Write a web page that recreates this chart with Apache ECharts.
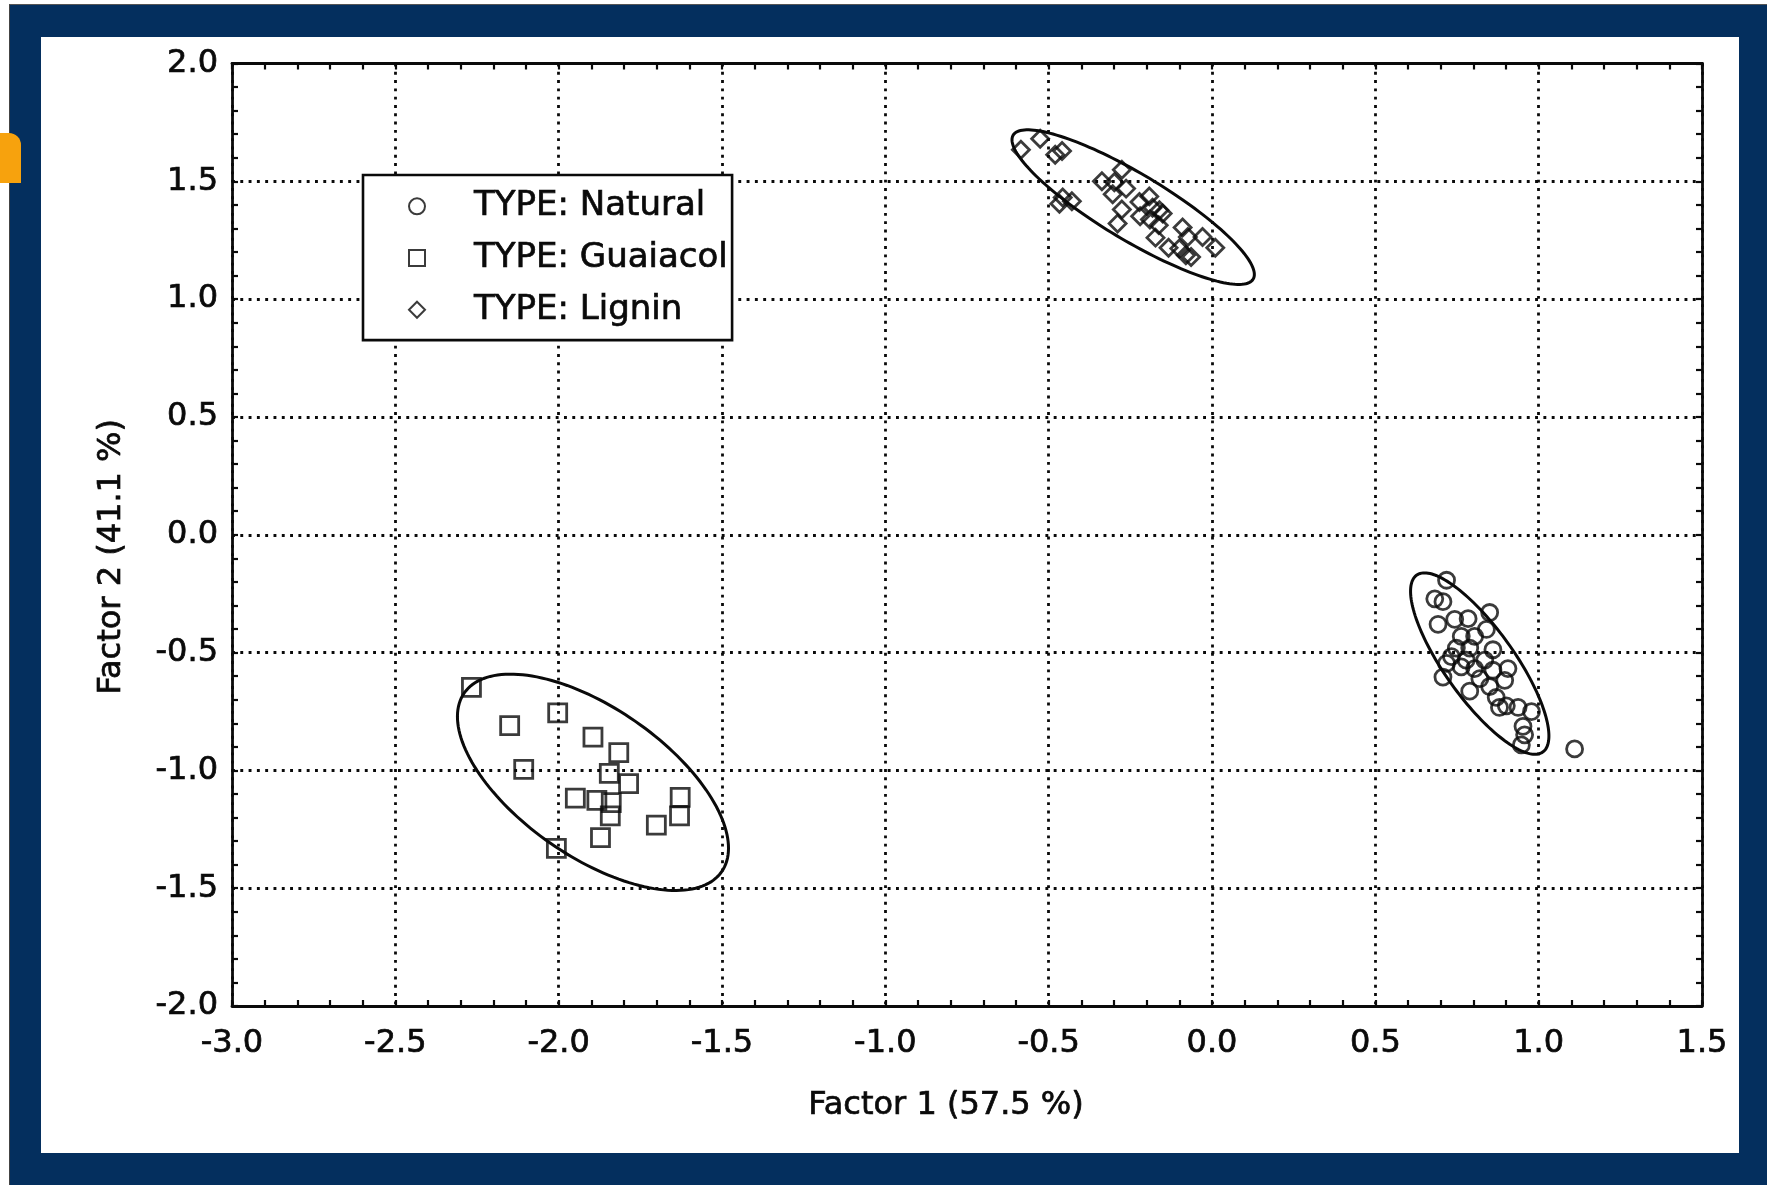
<!DOCTYPE html>
<html>
<head>
<meta charset="utf-8">
<script src="https://cdn.jsdelivr.net/npm/echarts@6/dist/echarts.min.js"></script>
<style>
  html, body { margin: 0; padding: 0; background: #ffffff; width: 1767px; height: 1185px; overflow: hidden; }
  #frame { position: absolute; left: 9px; top: 4px; width: 1758px; height: 1181px; background: #042f5e; border-top: 1.5px solid #555; border-left: 1.5px solid #444; box-sizing: border-box; }
  #tab { position: absolute; left: 0px; top: 133px; width: 21px; height: 50px; background: #f7a20d; border-radius: 0 12px 0 0; }
  #chart { position: absolute; left: 41px; top: 37px; width: 1698px; height: 1116px; background: #ffffff; }
</style>
</head>
<body>
<div id="frame"></div>
<div id="tab"></div>
<div id="chart"></div>
<script>
// ---- data ----
const seriesNames = ['TYPE: Natural', 'TYPE: Guaiacol', 'TYPE: Lignin'];
const xRange = [-3.0, 1.5];
const yRange = [-2.0, 2.0];
const tickStep = 0.5;
const xAxisTitle = 'Factor 1 (57.5 %)';
const yAxisTitle = 'Factor 2 (41.1 %)';

const naturalPoints = [
  [0.718,-0.193],[0.682,-0.272],[0.707,-0.284],[0.850,-0.330],[0.692,-0.380],
  [0.743,-0.359],[0.784,-0.356],[0.840,-0.402],[0.763,-0.431],[0.804,-0.431],
  [0.789,-0.481],[0.748,-0.481],[0.860,-0.488],[0.718,-0.546],[0.763,-0.561],
  [0.804,-0.568],[0.835,-0.532],[0.860,-0.575],[0.906,-0.568],[0.707,-0.604],
  [0.789,-0.664],[0.850,-0.644],[0.896,-0.618],[0.870,-0.690],[0.901,-0.726],
  [0.937,-0.733],[0.978,-0.751],[0.952,-0.813],[0.957,-0.849],[0.947,-0.892],
  [0.733,-0.517],[0.820,-0.611],[0.880,-0.733],[0.778,-0.532],[1.110,-0.909]
];
const guaiacolPoints = [
  [-2.267,-0.648],[-2.150,-0.810],[-2.003,-0.756],[-2.107,-0.996],[-1.895,-0.859],
  [-1.816,-0.925],[-1.845,-1.013],[-1.786,-1.056],[-1.949,-1.118],[-1.883,-1.127],
  [-1.839,-1.137],[-1.842,-1.193],[-1.872,-1.285],[-2.007,-1.331],[-1.701,-1.232],
  [-1.628,-1.115],[-1.630,-1.193]
];
const ligninPoints = [
  [-0.585,1.634],[-0.526,1.681],[-0.480,1.613],[-0.459,1.629],[-0.457,1.431],
  [-0.429,1.415],[-0.467,1.405],[-0.276,1.549],[-0.337,1.500],[-0.299,1.496],
  [-0.263,1.469],[-0.304,1.445],[-0.276,1.380],[-0.289,1.321],[-0.222,1.412],
  [-0.192,1.436],[-0.182,1.388],[-0.161,1.377],[-0.220,1.352],[-0.190,1.338],
  [-0.163,1.314],[-0.173,1.261],[-0.133,1.218],[-0.090,1.304],[-0.074,1.264],
  [-0.100,1.215],[-0.080,1.186],[-0.064,1.179],[-0.029,1.264],[0.010,1.218],
  [-0.151,1.363]
];
// confidence ellipses: [centerX, centerY, majorEndX, majorEndY, minorEndX, minorEndY]
const naturalEllipse  = [0.8196, -0.5468, 1.0133, -0.9215, 0.9052, -0.4585];
const guaiacolEllipse = [-1.895, -1.0507, -1.501, -1.430, -1.765, -0.792];
const ligninEllipse   = [-0.2413, 1.3905, 0.126, 1.085, -0.1893, 1.5105];

// ---- chart ----
const FONT = 'DejaVu Sans';
const INK = '#0a0a0a';
const chart = echarts.init(document.getElementById('chart'), null, { renderer: 'canvas' });

const heavy = { textBorderColor: INK, textBorderWidth: 0.7 };
const dotted = { type: [2.9, 5.4], width: 2.8, color: INK };
const axisLineStyle = { show: true, onZero: false, lineStyle: { color: INK, width: 2.8 } };
const tickStyle = { show: true, inside: true, length: 6, lineStyle: { color: INK, width: 2.2 } };
const minorTickStyle = { show: true, splitNumber: 5, length: 6, lineStyle: { color: INK, width: 2.2 } };
const fmt = v => v.toFixed(1);

const markerStyle = { color: 'rgba(0,0,0,0)', borderColor: INK, borderWidth: 2.8 };

function ellipseItem(params, api) {
  const cx = api.value(0), cy = api.value(1);
  const ux = api.value(2) - cx, uy = api.value(3) - cy;
  const vx = api.value(4) - cx, vy = api.value(5) - cy;
  const pts = [];
  const n = 160;
  for (let i = 0; i < n; i++) {
    const t = i / n * Math.PI * 2;
    const c = Math.cos(t), s = Math.sin(t);
    pts.push(api.coord([cx + c * ux + s * vx, cy + c * uy + s * vy]));
  }
  return {
    type: 'polygon',
    shape: { points: pts },
    style: { fill: 'none', stroke: INK, lineWidth: 3 },
    silent: true
  };
}

const option = {
  backgroundColor: '#ffffff',
  animation: false,
  textStyle: { fontFamily: FONT, color: INK },
  grid: { left: 191, top: 26.5, width: 1470, height: 942.5, show: false },
  xAxis: [{
    type: 'value', min: xRange[0], max: xRange[1], interval: tickStep, position: 'bottom',
    axisLine: axisLineStyle, axisTick: tickStyle, minorTick: minorTickStyle,
    splitLine: { show: true, lineStyle: dotted },
    axisLabel: Object.assign({ formatter: fmt, fontSize: 32, fontFamily: FONT, color: INK, margin: 22 }, heavy),
    name: xAxisTitle, nameLocation: 'middle', nameGap: 84,
    nameTextStyle: Object.assign({ fontSize: 32, fontFamily: FONT, color: INK, padding: [0, 42, 0, 0] }, heavy)
  }, {
    type: 'value', min: xRange[0], max: xRange[1], interval: tickStep, position: 'top',
    axisLine: axisLineStyle, axisTick: tickStyle, minorTick: minorTickStyle,
    splitLine: { show: false }, axisLabel: { show: false }
  }],
  yAxis: [{
    type: 'value', min: yRange[0], max: yRange[1], interval: tickStep, position: 'left',
    axisLine: axisLineStyle, axisTick: tickStyle, minorTick: minorTickStyle,
    splitLine: { show: true, lineStyle: dotted },
    axisLabel: Object.assign({ formatter: fmt, fontSize: 32, fontFamily: FONT, color: INK, margin: 14 }, heavy),
    name: yAxisTitle, nameLocation: 'middle', nameGap: 104,
    nameTextStyle: Object.assign({ fontSize: 32, fontFamily: FONT, color: INK, padding: [0, 44, 0, 0] }, heavy)
  }, {
    type: 'value', min: yRange[0], max: yRange[1], interval: tickStep, position: 'right',
    axisLine: axisLineStyle, axisTick: tickStyle, minorTick: minorTickStyle,
    splitLine: { show: false }, axisLabel: { show: false }
  }],
  legend: {
    data: seriesNames,
    orient: 'vertical',
    left: 322, top: 138,
    padding: [14, 4, 13, 45],
    itemWidth: 16, itemHeight: 16, itemGap: 17,
    backgroundColor: '#ffffff', borderColor: INK, borderWidth: 2.6,
    textStyle: Object.assign({ fontSize: 34, fontFamily: FONT, color: INK, lineHeight: 32, padding: [0, 0, 0, 44] }, heavy),
    selectedMode: false,
    z: 20
  },
  series: [
    { name: seriesNames[0], type: 'scatter', symbol: 'circle', symbolSize: 16, data: naturalPoints, itemStyle: markerStyle, z: 5 },
    { name: seriesNames[1], type: 'scatter', symbol: 'rect', symbolSize: 18, data: guaiacolPoints, itemStyle: markerStyle, z: 5 },
    { name: seriesNames[2], type: 'scatter', symbol: 'diamond', symbolSize: 17, data: ligninPoints, itemStyle: markerStyle, z: 5 },
    { type: 'custom', renderItem: ellipseItem, data: [naturalEllipse, guaiacolEllipse, ligninEllipse],
      encode: { x: [0, 2, 4], y: [1, 3, 5] }, silent: true, z: 4 }
  ]
};
chart.setOption(option);
</script>
</body>
</html>
